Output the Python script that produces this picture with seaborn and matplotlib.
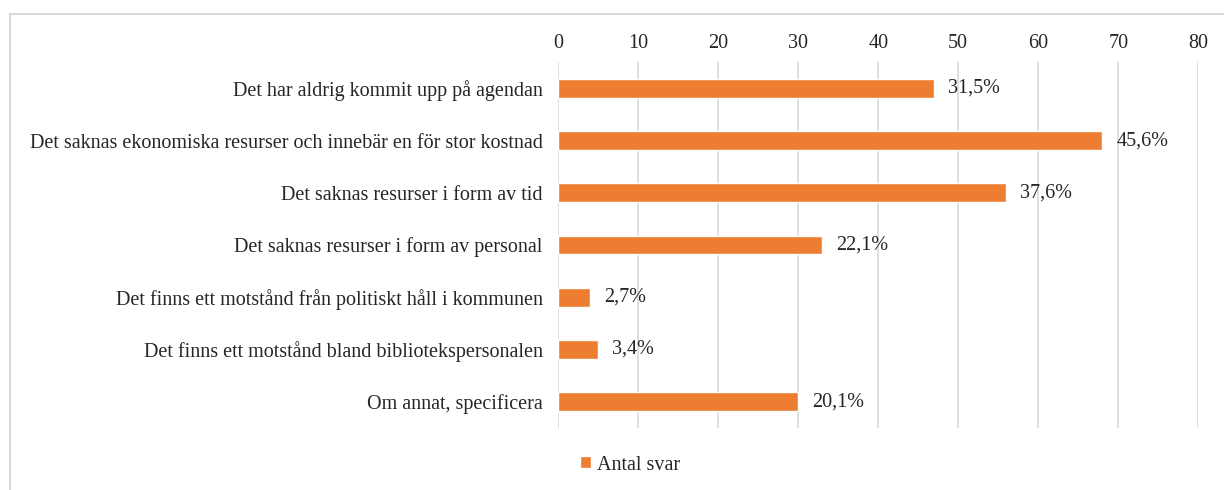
import matplotlib
matplotlib.use("Agg")
import matplotlib.pyplot as plt
import seaborn as sns
import pandas as pd
from matplotlib.patches import Rectangle

# Data
categories = [
    "Det har aldrig kommit upp på agendan",
    "Det saknas ekonomiska resurser och innebär en för stor kostnad",
    "Det saknas resurser i form av tid",
    "Det saknas resurser i form av personal",
    "Det finns ett motstånd från politiskt håll i kommunen",
    "Det finns ett motstånd bland bibliotekspersonalen",
    "Om annat, specificera",
]
antal_svar = [47, 68, 56, 33, 4, 5, 30]
procent = ["31,5%", "45,6%", "37,6%", "22,1%", "2,7%", "3,4%", "20,1%"]
x_ticks = [0, 10, 20, 30, 40, 50, 60, 70, 80]

df = pd.DataFrame({"kategori": categories, "antal": antal_svar})

sns.set_style("white")
plt.rcParams["font.family"] = ["Liberation Serif", "DejaVu Serif"]
fs = 14.5

fig = plt.figure(figsize=(12.24, 4.9), dpi=100)
ax = fig.add_axes([0.456, 0.127, 0.523, 0.746])

sns.barplot(data=df, y="kategori", x="antal", orient="h", color="#ED7D31",
            saturation=1, width=0.36, ax=ax, label="Antal svar")

ax.bar_label(ax.containers[0], labels=procent, padding=10, fontsize=fs)

ax.set_xlim(0, 80)
ax.set_xticks(x_ticks)
ax.xaxis.tick_top()
ax.tick_params(axis="x", length=0, labelsize=fs, pad=7)
ax.tick_params(axis="y", length=0, labelsize=fs, pad=11)
ax.grid(axis="x", color="#D9D9D9", linewidth=1.2)
ax.set_axisbelow(True)
ax.set_xlabel("")
ax.set_ylabel("")
for s in ax.spines.values():
    s.set_visible(False)

# förklaring längst ner
ax.legend(loc="center", bbox_to_anchor=(0.515, 1 - 465 / 490),
          bbox_transform=fig.transFigure, frameon=False, fontsize=fs,
          handlelength=0.55, handleheight=0.55, handletextpad=0.3)

# ram runt diagrammet
fig.patches.append(Rectangle((10 / 1224, -0.01), 1.02, 1 - 14 / 490 + 0.01,
                             transform=fig.transFigure, fill=False,
                             edgecolor="#D9D9D9", linewidth=1.5))

fig.savefig("out.png", dpi=100)
